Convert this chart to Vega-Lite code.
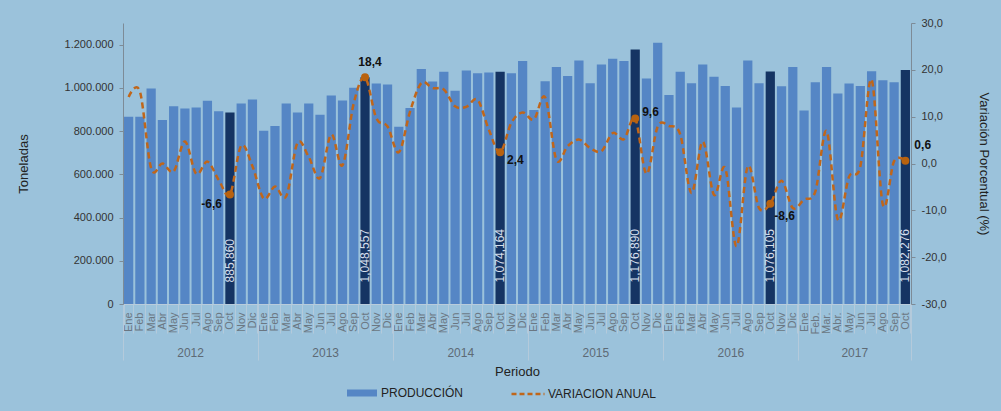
{
  "$schema": "https://vega.github.io/schema/vega-lite/v6.json",
  "width": 788,
  "height": 281,
  "autosize": {"type": "none"},
  "padding": {"left": 123, "top": 23, "right": 90, "bottom": 107},
  "background": "#9BC2DB",
  "config": {
    "view": {"stroke": null},
    "font": "Liberation Sans",
    "axis": {"grid": false}
  },
  "data": {"values": [
    {"p": "2012-Ene", "mes": "Ene", "prod": 866000, "var": 14.2},
    {"p": "2012-Feb", "mes": "Feb", "prod": 866000, "var": 15.4},
    {"p": "2012-Mar", "mes": "Mar", "prod": 997000, "var": -1.0},
    {"p": "2012-Abr", "mes": "Abr", "prod": 851000, "var": 0.0},
    {"p": "2012-May", "mes": "May", "prod": 915000, "var": -1.7},
    {"p": "2012-Jun", "mes": "Jun", "prod": 905000, "var": 4.7},
    {"p": "2012-Jul", "mes": "Jul", "prod": 909000, "var": -2.2},
    {"p": "2012-Ago", "mes": "Ago", "prod": 940000, "var": 0.4},
    {"p": "2012-Sep", "mes": "Sep", "prod": 892000, "var": -3.5},
    {"p": "2012-Oct", "mes": "Oct", "prod": 885860, "var": -6.6},
    {"p": "2012-Nov", "mes": "Nov", "prod": 928000, "var": 3.8},
    {"p": "2012-Dic", "mes": "Dic", "prod": 946000, "var": -0.6},
    {"p": "2013-Ene", "mes": "Ene", "prod": 801000, "var": -7.5},
    {"p": "2013-Feb", "mes": "Feb", "prod": 823000, "var": -4.9},
    {"p": "2013-Mar", "mes": "Mar", "prod": 928000, "var": -7.0},
    {"p": "2013-Abr", "mes": "Abr", "prod": 886000, "var": 4.4},
    {"p": "2013-May", "mes": "May", "prod": 928000, "var": 1.4},
    {"p": "2013-Jun", "mes": "Jun", "prod": 875000, "var": -3.1},
    {"p": "2013-Jul", "mes": "Jul", "prod": 965000, "var": 6.2},
    {"p": "2013-Ago", "mes": "Ago", "prod": 941000, "var": -0.4},
    {"p": "2013-Sep", "mes": "Sep", "prod": 1000000, "var": 12.9},
    {"p": "2013-Oct", "mes": "Oct", "prod": 1048557, "var": 18.4},
    {"p": "2013-Nov", "mes": "Nov", "prod": 1020000, "var": 9.7},
    {"p": "2013-Dic", "mes": "Dic", "prod": 1015000, "var": 7.9},
    {"p": "2014-Ene", "mes": "Ene", "prod": 820000, "var": 2.4},
    {"p": "2014-Feb", "mes": "Feb", "prod": 907000, "var": 11.1},
    {"p": "2014-Mar", "mes": "Mar", "prod": 1087000, "var": 17.2},
    {"p": "2014-Abr", "mes": "Abr", "prod": 1029000, "var": 16.1},
    {"p": "2014-May", "mes": "May", "prod": 1074000, "var": 15.8},
    {"p": "2014-Jun", "mes": "Jun", "prod": 986000, "var": 12.2},
    {"p": "2014-Jul", "mes": "Jul", "prod": 1080000, "var": 12.1},
    {"p": "2014-Ago", "mes": "Ago", "prod": 1067000, "var": 13.6},
    {"p": "2014-Sep", "mes": "Sep", "prod": 1071000, "var": 7.2},
    {"p": "2014-Oct", "mes": "Oct", "prod": 1074164, "var": 2.4},
    {"p": "2014-Nov", "mes": "Nov", "prod": 1067000, "var": 8.7},
    {"p": "2014-Dic", "mes": "Dic", "prod": 1124000, "var": 10.9},
    {"p": "2015-Ene", "mes": "Ene", "prod": 898000, "var": 9.4},
    {"p": "2015-Feb", "mes": "Feb", "prod": 1031000, "var": 14.1},
    {"p": "2015-Mar", "mes": "Mar", "prod": 1097000, "var": 0.8},
    {"p": "2015-Abr", "mes": "Abr", "prod": 1055000, "var": 3.7},
    {"p": "2015-May", "mes": "May", "prod": 1126000, "var": 5.1},
    {"p": "2015-Jun", "mes": "Jun", "prod": 1021000, "var": 3.3},
    {"p": "2015-Jul", "mes": "Jul", "prod": 1108000, "var": 2.6},
    {"p": "2015-Ago", "mes": "Ago", "prod": 1135000, "var": 6.5},
    {"p": "2015-Sep", "mes": "Sep", "prod": 1124000, "var": 5.2},
    {"p": "2015-Oct", "mes": "Oct", "prod": 1176890, "var": 9.6},
    {"p": "2015-Nov", "mes": "Nov", "prod": 1043000, "var": -2.2},
    {"p": "2015-Dic", "mes": "Dic", "prod": 1209000, "var": 7.9},
    {"p": "2016-Ene", "mes": "Ene", "prod": 967000, "var": 8.0},
    {"p": "2016-Feb", "mes": "Feb", "prod": 1074000, "var": 6.2},
    {"p": "2016-Mar", "mes": "Mar", "prod": 1021000, "var": -6.3},
    {"p": "2016-Abr", "mes": "Abr", "prod": 1108000, "var": 4.7},
    {"p": "2016-May", "mes": "May", "prod": 1051000, "var": -6.7},
    {"p": "2016-Jun", "mes": "Jun", "prod": 1009000, "var": -1.0},
    {"p": "2016-Jul", "mes": "Jul", "prod": 909000, "var": -17.7},
    {"p": "2016-Ago", "mes": "Ago", "prod": 1126000, "var": -0.6},
    {"p": "2016-Sep", "mes": "Sep", "prod": 1021000, "var": -9.5},
    {"p": "2016-Oct", "mes": "Oct", "prod": 1076105, "var": -8.6},
    {"p": "2016-Nov", "mes": "Nov", "prod": 1007000, "var": -3.7},
    {"p": "2016-Dic", "mes": "Dic", "prod": 1097000, "var": -9.5},
    {"p": "2017-Ene", "mes": "Ene", "prod": 895000, "var": -7.7},
    {"p": "2017-Feb.", "mes": "Feb.", "prod": 1026000, "var": -6.0},
    {"p": "2017-Mar.", "mes": "Mar.", "prod": 1097000, "var": 6.9},
    {"p": "2017-Abr.", "mes": "Abr.", "prod": 974000, "var": -12.0},
    {"p": "2017-May", "mes": "May", "prod": 1020000, "var": -2.8},
    {"p": "2017-Jun", "mes": "Jun", "prod": 1009000, "var": -0.6},
    {"p": "2017-Jul", "mes": "Jul", "prod": 1077000, "var": 17.9},
    {"p": "2017-Ago", "mes": "Ago", "prod": 1035000, "var": -8.8},
    {"p": "2017-Sep", "mes": "Sep", "prod": 1026000, "var": 0.5},
    {"p": "2017-Oct", "mes": "Oct", "prod": 1082276, "var": 0.6}
  ]},
  "layer": [
    {
      "mark": {"type": "bar"},
      "encoding": {
        "x": {"field": "p", "type": "ordinal", "sort": null, "scale": {"paddingInner": 0.18, "paddingOuter": 0.09},
          "axis": {"orient": "bottom", "title": null, "labelExpr": "split(datum.value, '-')[1]", "labelAngle": 270,
            "labelFontSize": 11, "labelColor": "#6B7782", "labelOverlap": false, "labelPadding": -21,
            "ticks": true, "tickBand": "extent", "tickSize": 29, "tickColor": "#B4CADB", "tickWidth": 1,
            "domainColor": "#B9CCDB", "domainWidth": 1}},
        "y": {"field": "prod", "type": "quantitative", "scale": {"domain": [0, 1300000], "nice": false},
          "axis": {"orient": "left", "title": "Toneladas", "values": [0, 200000, 400000, 600000, 800000, 1000000, 1200000],
            "labelExpr": "replace(replace(format(datum.value, ','), ',', '.'), ',', '.')", "labelFontSize": 11, "labelColor": "#333333",
            "tickSize": 4, "tickColor": "#7D8B97", "domainColor": "#7D8B97", "labelPadding": 6,
            "titleFontSize": 13, "titleFontWeight": "normal", "titleColor": "#222222", "titlePadding": 34}},
        "fill": {"condition": {"test": "datum.mes === 'Oct'", "value": "#153463"},
          "datum": "PRODUCCIÓN", "type": "nominal", "scale": {"range": ["#5586C5"]},
          "legend": {"orient": "none", "legendX": 224, "legendY": 355, "title": null, "padding": 0,
            "symbolType": "M-1,-0.233H1V0.233H-1Z", "symbolSize": 900, "symbolStrokeWidth": 0,
            "labelFontSize": 12, "labelColor": "#222222", "labelOffset": 4}}
      }
    },
    {
      "transform": [{"filter": "datum.mes === 'Oct'"}],
      "mark": {"type": "text", "angle": 270, "align": "left", "baseline": "middle", "fontSize": 12, "color": "#D5DFEC"},
      "encoding": {
        "x": {"field": "p", "type": "ordinal", "sort": null,
          "axis": {"orient": "bottom", "title": null, "values": ["2012-Ene"],
            "labels": false, "domain": false, "ticks": true, "tickOffset": -5.63, "tickSize": 56, "tickColor": "#B4CADB", "tickWidth": 1}},
        "y": {"datum": 100000, "type": "quantitative", "scale": {"domain": [0, 1300000], "nice": false}, "axis": null},
        "text": {"field": "prod", "type": "quantitative", "format": ","}
      }
    },
    {
      "mark": {"type": "line", "interpolate": "cardinal", "strokeWidth": 2.5, "strokeDash": [6, 4]},
      "encoding": {
        "x": {"field": "p", "type": "ordinal", "sort": null,
          "axis": {"orient": "bottom", "title": "Periodo", "labelOverlap": false,
            "values": ["2012-Jul", "2013-Jul", "2014-Jul", "2015-Jul", "2016-Jul", "2017-Jun"],
            "labelExpr": "slice(datum.value, 0, 4)",
            "labelAngle": 0, "labelAlign": "center", "labelBaseline": "top", "labelOffset": -5.6, "labelPadding": 43,
            "labelFontSize": 12, "labelColor": "#5E6A75", "ticks": false,
            "domain": false, "titleFontSize": 13, "titleFontWeight": "normal", "titleColor": "#222222", "titlePadding": 7}},
        "y": {"field": "var", "type": "quantitative", "scale": {"domain": [-30, 30], "nice": false},
          "axis": {"orient": "right", "title": "Variación Porcentual (%)", "values": [-30, -20, -10, 0, 10, 20, 30],
            "labelExpr": "replace(replace(format(datum.value, '.1f'), '.', ','), '\u2212', '-')", "labelFontSize": 11, "labelColor": "#333333", "tickSize": 4, "tickColor": "#7D8B97",
            "domainColor": "#7D8B97", "labelPadding": 6, "titleFontSize": 13, "titleFontWeight": "normal",
            "titleColor": "#222222", "titlePadding": 30}},
        "stroke": {"datum": "VARIACION ANUAL", "type": "nominal", "scale": {"range": ["#C0661A"]},
          "legend": {"orient": "none", "legendX": 387, "legendY": 353, "title": null, "padding": 0,
            "symbolType": "stroke", "symbolSize": 1089, "symbolStrokeWidth": 2.5, "symbolDash": [5, 3],
            "labelFontSize": 12, "labelColor": "#222222", "labelOffset": 2}}
      }
    },
    {
      "transform": [{"filter": "datum.mes === 'Oct'"}],
      "mark": {"type": "circle", "size": 64, "color": "#B8620F", "opacity": 1},
      "encoding": {
        "x": {"field": "p", "type": "ordinal", "sort": null,
          "axis": {"orient": "bottom", "title": null, "values": ["2012-Dic", "2013-Dic", "2014-Dic", "2015-Dic", "2016-Dic", "2017-Oct"],
            "labels": false, "domain": false, "ticks": true, "tickOffset": 5.63, "tickSize": 56, "tickColor": "#B4CADB", "tickWidth": 1}},
        "y": {"field": "var", "type": "quantitative", "scale": {"domain": [-30, 30], "nice": false}, "axis": null}}
    },
    {
      "transform": [{"filter": "datum.p === '2012-Oct'"}],
      "mark": {"type": "text", "align": "right", "baseline": "middle", "dx": -8, "dy": 10, "fontSize": 12, "fontWeight": "bold", "color": "#111111",
        "text": {"expr": "replace(replace(format(datum['var'], '.1f'), '.', ','), '\u2212', '-')"}},
      "encoding": {"x": {"field": "p", "type": "ordinal", "sort": null, "axis": null}, "y": {"field": "var", "type": "quantitative", "scale": {"domain": [-30, 30], "nice": false}, "axis": null}}
    },
    {
      "transform": [{"filter": "datum.p === '2013-Oct'"}],
      "mark": {"type": "text", "align": "center", "baseline": "middle", "dx": 5, "dy": -15, "fontSize": 12, "fontWeight": "bold", "color": "#111111",
        "text": {"expr": "replace(replace(format(datum['var'], '.1f'), '.', ','), '\u2212', '-')"}},
      "encoding": {"x": {"field": "p", "type": "ordinal", "sort": null, "axis": null}, "y": {"field": "var", "type": "quantitative", "scale": {"domain": [-30, 30], "nice": false}, "axis": null}}
    },
    {
      "transform": [{"filter": "datum.p === '2014-Oct'"}],
      "mark": {"type": "text", "align": "left", "baseline": "middle", "dx": 7, "dy": 8, "fontSize": 12, "fontWeight": "bold", "color": "#111111",
        "text": {"expr": "replace(replace(format(datum['var'], '.1f'), '.', ','), '\u2212', '-')"}},
      "encoding": {"x": {"field": "p", "type": "ordinal", "sort": null, "axis": null}, "y": {"field": "var", "type": "quantitative", "scale": {"domain": [-30, 30], "nice": false}, "axis": null}}
    },
    {
      "transform": [{"filter": "datum.p === '2015-Oct'"}],
      "mark": {"type": "text", "align": "left", "baseline": "middle", "dx": 7, "dy": -7, "fontSize": 12, "fontWeight": "bold", "color": "#111111",
        "text": {"expr": "replace(replace(format(datum['var'], '.1f'), '.', ','), '\u2212', '-')"}},
      "encoding": {"x": {"field": "p", "type": "ordinal", "sort": null, "axis": null}, "y": {"field": "var", "type": "quantitative", "scale": {"domain": [-30, 30], "nice": false}, "axis": null}}
    },
    {
      "transform": [{"filter": "datum.p === '2016-Oct'"}],
      "mark": {"type": "text", "align": "left", "baseline": "middle", "dx": 4, "dy": 12, "fontSize": 12, "fontWeight": "bold", "color": "#111111",
        "text": {"expr": "replace(replace(format(datum['var'], '.1f'), '.', ','), '\u2212', '-')"}},
      "encoding": {"x": {"field": "p", "type": "ordinal", "sort": null, "axis": null}, "y": {"field": "var", "type": "quantitative", "scale": {"domain": [-30, 30], "nice": false}, "axis": null}}
    },
    {
      "transform": [{"filter": "datum.p === '2017-Oct'"}],
      "mark": {"type": "text", "align": "left", "baseline": "middle", "dx": 9, "dy": -16, "fontSize": 12, "fontWeight": "bold", "color": "#111111",
        "text": {"expr": "replace(replace(format(datum['var'], '.1f'), '.', ','), '\u2212', '-')"}},
      "encoding": {"x": {"field": "p", "type": "ordinal", "sort": null, "axis": null}, "y": {"field": "var", "type": "quantitative", "scale": {"domain": [-30, 30], "nice": false}, "axis": null}}
    }
  ],
  "resolve": {"scale": {"y": "independent"}, "axis": {"x": "independent"}}
}
